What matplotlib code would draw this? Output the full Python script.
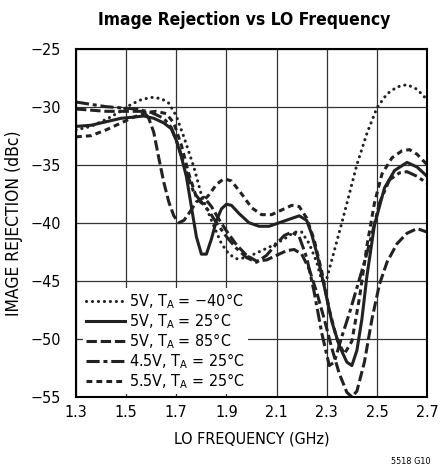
import matplotlib
matplotlib.use("Agg")
import matplotlib.pyplot as plt

plt.rcParams['font.family'] = ['DejaVu Sans']
plt.rcParams['font.stretch'] = 'condensed'
plt.rcParams['mathtext.fontset'] = 'custom'
plt.rcParams['mathtext.rm'] = 'DejaVu Sans:stretch=condensed'
plt.rcParams['axes.unicode_minus'] = True

# ---------------------------------------------------------------------------
# data (LO frequency in GHz, image rejection in dBc)
# ---------------------------------------------------------------------------
x_m40 = [1.30, 1.36, 1.42, 1.47, 1.52, 1.56, 1.60, 1.64, 1.67, 1.70, 1.73, 1.77, 1.80,
         1.84, 1.88, 1.91, 1.94, 1.98, 2.03, 2.08, 2.13, 2.17, 2.20, 2.23, 2.26, 2.28,
         2.30, 2.33, 2.36, 2.39, 2.42, 2.46, 2.50, 2.54, 2.58, 2.62, 2.66, 2.70]
y_m40 = [-32.0, -31.7, -31.1, -30.5, -29.8, -29.4, -29.2, -29.3, -29.7, -30.8, -32.6,
         -35.2, -37.6, -39.8, -41.8, -42.7, -43.1, -43.0, -42.5, -42.0, -41.4, -40.8,
         -40.8, -41.8, -43.4, -45.0, -44.8, -42.4, -40.0, -37.5, -35.0, -32.3, -30.1,
         -28.9, -28.3, -28.1, -28.5, -29.4]

x_25 = [1.30, 1.36, 1.42, 1.48, 1.53, 1.57, 1.61, 1.65, 1.68, 1.70, 1.72, 1.74, 1.76,
        1.78, 1.80, 1.82, 1.84, 1.86, 1.88, 1.90, 1.92, 1.95, 1.99, 2.03, 2.07, 2.11,
        2.15, 2.19, 2.22, 2.24, 2.26, 2.29, 2.32, 2.35, 2.38, 2.40, 2.42, 2.44, 2.46,
        2.49, 2.53, 2.57, 2.62, 2.66, 2.70]
y_25 = [-31.7, -31.6, -31.3, -31.0, -30.9, -30.8, -31.0, -31.4, -31.9, -32.9, -34.3,
        -36.0, -38.6, -41.2, -42.7, -42.7, -41.4, -39.8, -38.8, -38.4, -38.5, -39.2,
        -40.0, -40.3, -40.3, -40.0, -39.7, -39.4, -39.8, -41.0, -42.6, -45.5, -48.5,
        -50.6, -52.0, -52.3, -51.0, -48.3, -44.6, -40.2, -37.0, -35.5, -34.8, -35.2,
        -36.0]

x_85 = [1.30, 1.36, 1.42, 1.48, 1.53, 1.57, 1.59, 1.61, 1.63, 1.65, 1.67, 1.69, 1.71,
        1.73, 1.75, 1.78, 1.81, 1.84, 1.87, 1.90, 1.94, 1.98, 2.02, 2.06, 2.10, 2.14,
        2.17, 2.20, 2.23, 2.26, 2.29, 2.32, 2.35, 2.38, 2.40, 2.42, 2.45, 2.48, 2.51,
        2.54, 2.58, 2.62, 2.66, 2.70]
y_85 = [-30.2, -30.3, -30.4, -30.4, -30.4, -30.4, -31.0, -32.2, -34.4, -36.5, -38.2,
        -39.4, -40.0, -39.8, -39.2, -38.2, -37.8, -38.6, -39.7, -40.7, -41.9, -42.8,
        -43.3, -43.2, -42.8, -42.4, -42.3, -42.7, -44.0, -46.0, -48.3, -50.8, -53.0,
        -54.6, -55.0, -54.5, -52.0, -48.3, -45.3, -43.4, -41.8, -40.9, -40.5, -40.8]

x_45 = [1.30, 1.36, 1.42, 1.48, 1.54, 1.60, 1.65, 1.68, 1.71, 1.74, 1.77, 1.80, 1.83,
        1.86, 1.90, 1.94, 1.98, 2.02, 2.06, 2.10, 2.13, 2.16, 2.19, 2.22, 2.25, 2.28,
        2.31, 2.33, 2.36, 2.39, 2.42, 2.45, 2.48, 2.51, 2.55, 2.59, 2.62, 2.66, 2.70]
y_45 = [-29.6, -29.8, -30.0, -30.1, -30.2, -30.5, -31.0, -31.8, -33.5, -35.6, -37.4,
        -38.2, -39.0, -40.0, -41.2, -42.2, -43.0, -43.4, -42.8, -41.8, -41.1, -40.8,
        -41.2, -43.0, -46.0, -49.5, -52.3, -52.0, -49.8, -47.8, -45.6, -43.4, -41.0,
        -38.3, -36.3, -35.7, -35.6, -36.0, -36.6]

x_55 = [1.30, 1.36, 1.42, 1.48, 1.53, 1.58, 1.62, 1.66, 1.69, 1.72, 1.75, 1.78, 1.80,
        1.83, 1.86, 1.89, 1.92, 1.96, 2.00, 2.04, 2.08, 2.12, 2.16, 2.19, 2.22, 2.25,
        2.28, 2.31, 2.34, 2.37, 2.40, 2.43, 2.46, 2.49, 2.52, 2.56, 2.60, 2.63, 2.66,
        2.70]
y_55 = [-32.6, -32.5, -32.0, -31.4, -30.9, -30.5, -30.4, -30.6, -31.4, -33.3, -35.8,
        -37.8, -38.3, -37.6, -36.7, -36.2, -36.4, -37.5, -38.7, -39.3, -39.3, -38.9,
        -38.5, -38.6, -39.6, -41.5, -44.2, -47.5, -50.0, -51.3, -50.2, -46.5, -42.0,
        -38.3, -35.8, -34.4, -33.8, -33.7, -34.1, -35.0]

labels = ["5V, T$_\\mathregular{A}$ = \u221240\u00b0C",
          "5V, T$_\\mathregular{A}$ = 25\u00b0C",
          "5V, T$_\\mathregular{A}$ = 85\u00b0C",
          "4.5V, T$_\\mathregular{A}$ = 25\u00b0C",
          "5.5V, T$_\\mathregular{A}$ = 25\u00b0C"]

x_ticks = [1.3, 1.5, 1.7, 1.9, 2.1, 2.3, 2.5, 2.7]
y_ticks = [-55, -50, -45, -40, -35, -30, -25]

# ---------------------------------------------------------------------------
fig = plt.figure(figsize=(4.4, 4.72), dpi=100)
ax = fig.add_axes([0.1727, 0.159, 0.798, 0.738])

lw = 2.2
ax.plot(x_m40, y_m40, color="#222222", lw=lw, linestyle=(0, (0.05, 1.9)),
        dash_capstyle="round", label=labels[0])
ax.plot(x_25, y_25, color="#222222", lw=lw, label=labels[1])
ax.plot(x_85, y_85, color="#222222", lw=lw, linestyle=(0, (3.4, 1.25)),
        dash_capstyle="butt", label=labels[2])
ax.plot(x_45, y_45, color="#222222", lw=lw, linestyle=(0, (4.3, 1.25, 1.3, 1.25)),
        dash_capstyle="butt", label=labels[3])
ax.plot(x_55, y_55, color="#222222", lw=lw, linestyle=(0, (1.9, 1.35)),
        dash_capstyle="butt", label=labels[4])

ax.set_xlim(1.3, 2.7)
ax.set_ylim(-55, -25)
ax.set_xticks(x_ticks)
ax.set_xticklabels([f"{t:.1f}" for t in x_ticks])
ax.set_yticks(y_ticks)
ax.set_yticklabels([f"\u2212{abs(t)}" for t in y_ticks])
ax.tick_params(axis="y", length=0, labelsize=11.5, pad=11)
ax.tick_params(axis="x", length=0, labelsize=11.5, pad=6)
ax.grid(True, color="#333333", lw=0.9)
ax.set_axisbelow(True)
for s in ax.spines.values():
    s.set_linewidth(1.5)

ax.set_xlabel("LO FREQUENCY (GHz)", fontsize=11.5, labelpad=8)
ax.set_ylabel("IMAGE REJECTION (dBc)", fontsize=12.5, labelpad=5)
fig.text(0.555, 0.957, "Image Rejection vs LO Frequency", ha="center", va="center",
         fontsize=12.5, fontweight="bold")
fig.text(0.978, 0.012, "5518 G10", ha="right", va="bottom", fontsize=6.5)

leg = ax.legend(loc="lower left", bbox_to_anchor=(0.02, 0.008), fontsize=11.5,
                frameon=True, fancybox=False, framealpha=1, edgecolor="none",
                facecolor="white", handlelength=2.4, handletextpad=0.25,
                labelspacing=0.02, borderpad=0.2, borderaxespad=0.0)

fig.savefig("out.png", dpi=100)
